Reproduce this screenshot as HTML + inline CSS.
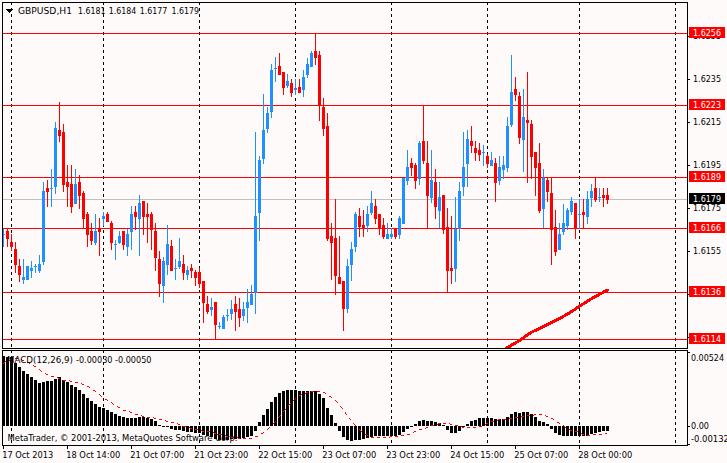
<!DOCTYPE html>
<html><head><meta charset="utf-8"><title>GBPUSD,H1</title>
<style>
html,body{margin:0;padding:0;background:#FFFAFA;width:727px;height:463px;overflow:hidden}
svg{display:block}
text{font-family:"DejaVu Sans","Liberation Sans",sans-serif;font-size:9px}
</style></head><body>
<svg width="727" height="463" viewBox="0 0 727 463" shape-rendering="crispEdges">
<rect x="0" y="0" width="727" height="463" fill="#FFFAFA"/>
<g stroke="#000" stroke-width="1" stroke-dasharray="3 3" fill="none">
<line x1="11.5" y1="2" x2="11.5" y2="348"/>
<line x1="11.5" y1="350" x2="11.5" y2="445"/>
<line x1="103.5" y1="2" x2="103.5" y2="348"/>
<line x1="103.5" y1="350" x2="103.5" y2="445"/>
<line x1="199.5" y1="2" x2="199.5" y2="348"/>
<line x1="199.5" y1="350" x2="199.5" y2="445"/>
<line x1="295.5" y1="2" x2="295.5" y2="348"/>
<line x1="295.5" y1="350" x2="295.5" y2="445"/>
<line x1="391.5" y1="2" x2="391.5" y2="348"/>
<line x1="391.5" y1="350" x2="391.5" y2="445"/>
<line x1="487.5" y1="2" x2="487.5" y2="348"/>
<line x1="487.5" y1="350" x2="487.5" y2="445"/>
<line x1="579.5" y1="2" x2="579.5" y2="348"/>
<line x1="579.5" y1="350" x2="579.5" y2="445"/>
<line x1="675.5" y1="2" x2="675.5" y2="348"/>
<line x1="675.5" y1="350" x2="675.5" y2="445"/>
</g>
<rect x="3" y="199" width="684" height="1" fill="#C0C0C0"/>
<rect x="3" y="33" width="684" height="1" fill="#FF0000"/>
<rect x="3" y="105" width="684" height="1" fill="#FF0000"/>
<rect x="3" y="177" width="684" height="1" fill="#FF0000"/>
<rect x="3" y="228" width="684" height="1" fill="#FF0000"/>
<rect x="3" y="292" width="684" height="1" fill="#FF0000"/>
<rect x="3" y="339" width="684" height="1" fill="#FF0000"/>
<clipPath id="cm"><rect x="3" y="3" width="684" height="345"/></clipPath>
<polyline clip-path="url(#cm)" points="496,354.4 507.5,347.6 521,339.6 530.4,332.8 544.9,325.9 560,318.4 566.5,314.6 573,310.7 581.7,304.8 593.3,297.6 607.5,290.1" fill="none" stroke="#FF0000" stroke-width="3" stroke-linecap="round" stroke-linejoin="round" shape-rendering="crispEdges"/>
<g>
<rect x="3" y="229" width="1" height="18" fill="#1E90FF"/>
<rect x="3" y="234" width="2" height="1" fill="#1E90FF"/>
<rect x="7" y="229" width="1" height="18" fill="#FF0000"/>
<rect x="6" y="231" width="3" height="8" fill="#FF0000"/>
<rect x="11" y="234" width="1" height="17" fill="#FF0000"/>
<rect x="10" y="242" width="3" height="5" fill="#FF0000"/>
<rect x="15" y="242" width="1" height="31" fill="#FF0000"/>
<rect x="14" y="249" width="3" height="16" fill="#FF0000"/>
<rect x="19" y="259" width="1" height="23" fill="#FF0000"/>
<rect x="18" y="266" width="3" height="9" fill="#FF0000"/>
<rect x="23" y="259" width="1" height="25" fill="#1E90FF"/>
<rect x="22" y="277" width="3" height="3" fill="#1E90FF"/>
<rect x="27" y="266" width="1" height="14" fill="#1E90FF"/>
<rect x="26" y="266" width="3" height="14" fill="#1E90FF"/>
<rect x="31" y="261" width="1" height="17" fill="#1E90FF"/>
<rect x="30" y="268" width="3" height="3" fill="#1E90FF"/>
<rect x="35" y="264" width="1" height="9" fill="#1E90FF"/>
<rect x="34" y="266" width="3" height="1" fill="#1E90FF"/>
<rect x="39" y="255" width="1" height="18" fill="#1E90FF"/>
<rect x="38" y="264" width="3" height="7" fill="#1E90FF"/>
<rect x="43" y="182" width="1" height="83" fill="#1E90FF"/>
<rect x="42" y="191" width="3" height="71" fill="#1E90FF"/>
<rect x="47" y="180" width="1" height="27" fill="#FF0000"/>
<rect x="46" y="188" width="3" height="4" fill="#FF0000"/>
<rect x="51" y="169" width="1" height="38" fill="#1E90FF"/>
<rect x="50" y="188" width="3" height="1" fill="#1E90FF"/>
<rect x="55" y="122" width="1" height="72" fill="#1E90FF"/>
<rect x="54" y="128" width="3" height="59" fill="#1E90FF"/>
<rect x="59" y="102" width="1" height="40" fill="#FF0000"/>
<rect x="58" y="130" width="3" height="6" fill="#FF0000"/>
<rect x="63" y="124" width="1" height="68" fill="#FF0000"/>
<rect x="62" y="132" width="3" height="53" fill="#FF0000"/>
<rect x="67" y="165" width="1" height="42" fill="#FF0000"/>
<rect x="66" y="182" width="3" height="5" fill="#FF0000"/>
<rect x="71" y="165" width="1" height="48" fill="#FF0000"/>
<rect x="70" y="184" width="3" height="23" fill="#FF0000"/>
<rect x="75" y="169" width="1" height="35" fill="#1E90FF"/>
<rect x="74" y="184" width="3" height="20" fill="#1E90FF"/>
<rect x="79" y="175" width="1" height="34" fill="#FF0000"/>
<rect x="78" y="182" width="3" height="14" fill="#FF0000"/>
<rect x="83" y="191" width="1" height="38" fill="#FF0000"/>
<rect x="82" y="193" width="3" height="26" fill="#FF0000"/>
<rect x="87" y="212" width="1" height="35" fill="#FF0000"/>
<rect x="86" y="214" width="3" height="21" fill="#FF0000"/>
<rect x="91" y="223" width="1" height="22" fill="#FF0000"/>
<rect x="90" y="231" width="3" height="10" fill="#FF0000"/>
<rect x="95" y="214" width="1" height="31" fill="#1E90FF"/>
<rect x="94" y="231" width="3" height="12" fill="#1E90FF"/>
<rect x="99" y="218" width="1" height="38" fill="#FF0000"/>
<rect x="98" y="228" width="3" height="4" fill="#FF0000"/>
<rect x="103" y="212" width="1" height="14" fill="#1E90FF"/>
<rect x="102" y="216" width="3" height="3" fill="#1E90FF"/>
<rect x="107" y="212" width="1" height="10" fill="#FF0000"/>
<rect x="106" y="214" width="3" height="8" fill="#FF0000"/>
<rect x="111" y="221" width="1" height="29" fill="#FF0000"/>
<rect x="110" y="223" width="3" height="20" fill="#FF0000"/>
<rect x="115" y="240" width="1" height="20" fill="#1E90FF"/>
<rect x="114" y="244" width="3" height="1" fill="#1E90FF"/>
<rect x="119" y="231" width="1" height="13" fill="#1E90FF"/>
<rect x="118" y="236" width="3" height="7" fill="#1E90FF"/>
<rect x="123" y="231" width="1" height="19" fill="#FF0000"/>
<rect x="122" y="231" width="3" height="14" fill="#FF0000"/>
<rect x="127" y="229" width="1" height="27" fill="#1E90FF"/>
<rect x="126" y="234" width="3" height="13" fill="#1E90FF"/>
<rect x="131" y="206" width="1" height="44" fill="#1E90FF"/>
<rect x="130" y="214" width="3" height="18" fill="#1E90FF"/>
<rect x="135" y="206" width="1" height="24" fill="#FF0000"/>
<rect x="134" y="212" width="3" height="5" fill="#FF0000"/>
<rect x="139" y="195" width="1" height="61" fill="#1E90FF"/>
<rect x="138" y="203" width="3" height="16" fill="#1E90FF"/>
<rect x="143" y="201" width="1" height="34" fill="#FF0000"/>
<rect x="142" y="201" width="3" height="16" fill="#FF0000"/>
<rect x="147" y="203" width="1" height="40" fill="#FF0000"/>
<rect x="146" y="214" width="3" height="3" fill="#FF0000"/>
<rect x="151" y="212" width="1" height="38" fill="#FF0000"/>
<rect x="150" y="214" width="3" height="16" fill="#FF0000"/>
<rect x="155" y="223" width="1" height="48" fill="#FF0000"/>
<rect x="154" y="231" width="3" height="27" fill="#FF0000"/>
<rect x="159" y="251" width="1" height="46" fill="#FF0000"/>
<rect x="158" y="259" width="3" height="25" fill="#FF0000"/>
<rect x="163" y="257" width="1" height="46" fill="#1E90FF"/>
<rect x="162" y="261" width="3" height="25" fill="#1E90FF"/>
<rect x="167" y="225" width="1" height="50" fill="#1E90FF"/>
<rect x="166" y="244" width="3" height="21" fill="#1E90FF"/>
<rect x="171" y="240" width="1" height="31" fill="#FF0000"/>
<rect x="170" y="246" width="3" height="25" fill="#FF0000"/>
<rect x="175" y="259" width="1" height="21" fill="#1E90FF"/>
<rect x="174" y="268" width="3" height="1" fill="#1E90FF"/>
<rect x="179" y="238" width="1" height="31" fill="#1E90FF"/>
<rect x="178" y="261" width="3" height="6" fill="#1E90FF"/>
<rect x="183" y="255" width="1" height="25" fill="#FF0000"/>
<rect x="182" y="264" width="3" height="9" fill="#FF0000"/>
<rect x="187" y="266" width="1" height="14" fill="#1E90FF"/>
<rect x="186" y="270" width="3" height="5" fill="#1E90FF"/>
<rect x="191" y="264" width="1" height="14" fill="#FF0000"/>
<rect x="190" y="268" width="3" height="3" fill="#FF0000"/>
<rect x="195" y="270" width="1" height="16" fill="#FF0000"/>
<rect x="194" y="272" width="3" height="6" fill="#FF0000"/>
<rect x="199" y="268" width="1" height="20" fill="#FF0000"/>
<rect x="198" y="272" width="3" height="12" fill="#FF0000"/>
<rect x="203" y="281" width="1" height="42" fill="#FF0000"/>
<rect x="202" y="281" width="3" height="22" fill="#FF0000"/>
<rect x="207" y="296" width="1" height="18" fill="#FF0000"/>
<rect x="206" y="304" width="3" height="8" fill="#FF0000"/>
<rect x="211" y="298" width="1" height="18" fill="#1E90FF"/>
<rect x="210" y="307" width="3" height="3" fill="#1E90FF"/>
<rect x="215" y="302" width="1" height="38" fill="#FF0000"/>
<rect x="214" y="302" width="3" height="23" fill="#FF0000"/>
<rect x="219" y="322" width="1" height="7" fill="#1E90FF"/>
<rect x="218" y="326" width="3" height="1" fill="#1E90FF"/>
<rect x="223" y="315" width="1" height="14" fill="#1E90FF"/>
<rect x="222" y="317" width="3" height="12" fill="#1E90FF"/>
<rect x="227" y="309" width="1" height="12" fill="#1E90FF"/>
<rect x="226" y="315" width="3" height="1" fill="#1E90FF"/>
<rect x="231" y="300" width="1" height="20" fill="#1E90FF"/>
<rect x="230" y="309" width="3" height="5" fill="#1E90FF"/>
<rect x="235" y="296" width="1" height="35" fill="#FF0000"/>
<rect x="234" y="304" width="3" height="8" fill="#FF0000"/>
<rect x="239" y="298" width="1" height="29" fill="#FF0000"/>
<rect x="238" y="309" width="3" height="9" fill="#FF0000"/>
<rect x="243" y="302" width="1" height="19" fill="#1E90FF"/>
<rect x="242" y="309" width="3" height="7" fill="#1E90FF"/>
<rect x="247" y="289" width="1" height="34" fill="#1E90FF"/>
<rect x="246" y="302" width="3" height="6" fill="#1E90FF"/>
<rect x="251" y="285" width="1" height="20" fill="#1E90FF"/>
<rect x="250" y="294" width="3" height="11" fill="#1E90FF"/>
<rect x="255" y="132" width="1" height="182" fill="#1E90FF"/>
<rect x="254" y="216" width="3" height="77" fill="#1E90FF"/>
<rect x="259" y="156" width="1" height="85" fill="#1E90FF"/>
<rect x="258" y="160" width="3" height="53" fill="#1E90FF"/>
<rect x="263" y="94" width="1" height="70" fill="#1E90FF"/>
<rect x="262" y="130" width="3" height="29" fill="#1E90FF"/>
<rect x="267" y="107" width="1" height="26" fill="#1E90FF"/>
<rect x="266" y="113" width="3" height="16" fill="#1E90FF"/>
<rect x="271" y="64" width="1" height="54" fill="#1E90FF"/>
<rect x="270" y="70" width="3" height="42" fill="#1E90FF"/>
<rect x="275" y="57" width="1" height="25" fill="#1E90FF"/>
<rect x="274" y="68" width="3" height="1" fill="#1E90FF"/>
<rect x="279" y="53" width="1" height="22" fill="#FF0000"/>
<rect x="278" y="66" width="3" height="9" fill="#FF0000"/>
<rect x="283" y="72" width="1" height="23" fill="#FF0000"/>
<rect x="282" y="72" width="3" height="16" fill="#FF0000"/>
<rect x="287" y="74" width="1" height="14" fill="#1E90FF"/>
<rect x="286" y="81" width="3" height="5" fill="#1E90FF"/>
<rect x="291" y="79" width="1" height="18" fill="#FF0000"/>
<rect x="290" y="83" width="3" height="10" fill="#FF0000"/>
<rect x="295" y="79" width="1" height="16" fill="#1E90FF"/>
<rect x="294" y="88" width="3" height="2" fill="#1E90FF"/>
<rect x="299" y="79" width="1" height="14" fill="#FF0000"/>
<rect x="298" y="87" width="3" height="6" fill="#FF0000"/>
<rect x="303" y="70" width="1" height="27" fill="#1E90FF"/>
<rect x="302" y="77" width="3" height="13" fill="#1E90FF"/>
<rect x="307" y="58" width="1" height="20" fill="#1E90FF"/>
<rect x="306" y="64" width="3" height="11" fill="#1E90FF"/>
<rect x="311" y="51" width="1" height="16" fill="#1E90FF"/>
<rect x="310" y="53" width="3" height="14" fill="#1E90FF"/>
<rect x="315" y="33" width="1" height="32" fill="#FF0000"/>
<rect x="314" y="51" width="3" height="7" fill="#FF0000"/>
<rect x="319" y="51" width="1" height="70" fill="#FF0000"/>
<rect x="318" y="55" width="3" height="51" fill="#FF0000"/>
<rect x="323" y="98" width="1" height="38" fill="#FF0000"/>
<rect x="322" y="107" width="3" height="22" fill="#FF0000"/>
<rect x="327" y="113" width="1" height="128" fill="#FF0000"/>
<rect x="326" y="126" width="3" height="113" fill="#FF0000"/>
<rect x="331" y="223" width="1" height="57" fill="#FF0000"/>
<rect x="330" y="236" width="3" height="7" fill="#FF0000"/>
<rect x="335" y="199" width="1" height="96" fill="#FF0000"/>
<rect x="334" y="238" width="3" height="38" fill="#FF0000"/>
<rect x="339" y="236" width="1" height="48" fill="#FF0000"/>
<rect x="338" y="277" width="3" height="7" fill="#FF0000"/>
<rect x="343" y="281" width="1" height="50" fill="#FF0000"/>
<rect x="342" y="281" width="3" height="28" fill="#FF0000"/>
<rect x="347" y="259" width="1" height="54" fill="#1E90FF"/>
<rect x="346" y="266" width="3" height="43" fill="#1E90FF"/>
<rect x="351" y="242" width="1" height="39" fill="#1E90FF"/>
<rect x="350" y="249" width="3" height="16" fill="#1E90FF"/>
<rect x="355" y="212" width="1" height="40" fill="#1E90FF"/>
<rect x="354" y="214" width="3" height="33" fill="#1E90FF"/>
<rect x="359" y="208" width="1" height="29" fill="#FF0000"/>
<rect x="358" y="216" width="3" height="11" fill="#FF0000"/>
<rect x="363" y="210" width="1" height="27" fill="#FF0000"/>
<rect x="362" y="225" width="3" height="3" fill="#FF0000"/>
<rect x="367" y="206" width="1" height="26" fill="#1E90FF"/>
<rect x="366" y="214" width="3" height="12" fill="#1E90FF"/>
<rect x="371" y="191" width="1" height="24" fill="#1E90FF"/>
<rect x="370" y="203" width="3" height="10" fill="#1E90FF"/>
<rect x="375" y="199" width="1" height="25" fill="#FF0000"/>
<rect x="374" y="206" width="3" height="13" fill="#FF0000"/>
<rect x="379" y="214" width="1" height="21" fill="#FF0000"/>
<rect x="378" y="214" width="3" height="15" fill="#FF0000"/>
<rect x="383" y="218" width="1" height="21" fill="#FF0000"/>
<rect x="382" y="225" width="3" height="12" fill="#FF0000"/>
<rect x="387" y="223" width="1" height="16" fill="#1E90FF"/>
<rect x="386" y="234" width="3" height="5" fill="#1E90FF"/>
<rect x="391" y="228" width="1" height="11" fill="#1E90FF"/>
<rect x="390" y="234" width="3" height="3" fill="#1E90FF"/>
<rect x="395" y="228" width="1" height="11" fill="#FF0000"/>
<rect x="394" y="228" width="3" height="9" fill="#FF0000"/>
<rect x="399" y="216" width="1" height="23" fill="#1E90FF"/>
<rect x="398" y="218" width="3" height="17" fill="#1E90FF"/>
<rect x="403" y="178" width="1" height="46" fill="#1E90FF"/>
<rect x="402" y="178" width="3" height="46" fill="#1E90FF"/>
<rect x="407" y="150" width="1" height="35" fill="#1E90FF"/>
<rect x="406" y="167" width="3" height="14" fill="#1E90FF"/>
<rect x="411" y="158" width="1" height="18" fill="#FF0000"/>
<rect x="410" y="163" width="3" height="5" fill="#FF0000"/>
<rect x="415" y="163" width="1" height="26" fill="#FF0000"/>
<rect x="414" y="165" width="3" height="16" fill="#FF0000"/>
<rect x="419" y="141" width="1" height="44" fill="#1E90FF"/>
<rect x="418" y="143" width="3" height="36" fill="#1E90FF"/>
<rect x="423" y="105" width="1" height="59" fill="#FF0000"/>
<rect x="422" y="141" width="3" height="20" fill="#FF0000"/>
<rect x="427" y="141" width="1" height="87" fill="#FF0000"/>
<rect x="426" y="163" width="3" height="33" fill="#FF0000"/>
<rect x="431" y="150" width="1" height="53" fill="#1E90FF"/>
<rect x="430" y="180" width="3" height="18" fill="#1E90FF"/>
<rect x="435" y="169" width="1" height="50" fill="#FF0000"/>
<rect x="434" y="182" width="3" height="25" fill="#FF0000"/>
<rect x="439" y="182" width="1" height="46" fill="#1E90FF"/>
<rect x="438" y="197" width="3" height="14" fill="#1E90FF"/>
<rect x="443" y="195" width="1" height="39" fill="#FF0000"/>
<rect x="442" y="195" width="3" height="35" fill="#FF0000"/>
<rect x="447" y="208" width="1" height="84" fill="#FF0000"/>
<rect x="446" y="227" width="3" height="44" fill="#FF0000"/>
<rect x="451" y="216" width="1" height="68" fill="#FF0000"/>
<rect x="450" y="268" width="3" height="3" fill="#FF0000"/>
<rect x="455" y="197" width="1" height="85" fill="#1E90FF"/>
<rect x="454" y="229" width="3" height="40" fill="#1E90FF"/>
<rect x="459" y="182" width="1" height="59" fill="#1E90FF"/>
<rect x="458" y="191" width="3" height="38" fill="#1E90FF"/>
<rect x="463" y="132" width="1" height="64" fill="#1E90FF"/>
<rect x="462" y="167" width="3" height="20" fill="#1E90FF"/>
<rect x="467" y="130" width="1" height="57" fill="#1E90FF"/>
<rect x="466" y="139" width="3" height="25" fill="#1E90FF"/>
<rect x="471" y="126" width="1" height="27" fill="#FF0000"/>
<rect x="470" y="141" width="3" height="5" fill="#FF0000"/>
<rect x="475" y="141" width="1" height="20" fill="#FF0000"/>
<rect x="474" y="148" width="3" height="5" fill="#FF0000"/>
<rect x="479" y="143" width="1" height="18" fill="#FF0000"/>
<rect x="478" y="150" width="3" height="5" fill="#FF0000"/>
<rect x="483" y="145" width="1" height="21" fill="#1E90FF"/>
<rect x="482" y="152" width="3" height="1" fill="#1E90FF"/>
<rect x="487" y="154" width="1" height="14" fill="#FF0000"/>
<rect x="486" y="156" width="3" height="8" fill="#FF0000"/>
<rect x="491" y="152" width="1" height="14" fill="#1E90FF"/>
<rect x="490" y="160" width="3" height="6" fill="#1E90FF"/>
<rect x="495" y="158" width="1" height="44" fill="#FF0000"/>
<rect x="494" y="163" width="3" height="20" fill="#FF0000"/>
<rect x="499" y="156" width="1" height="29" fill="#1E90FF"/>
<rect x="498" y="167" width="3" height="14" fill="#1E90FF"/>
<rect x="503" y="156" width="1" height="23" fill="#1E90FF"/>
<rect x="502" y="165" width="3" height="5" fill="#1E90FF"/>
<rect x="507" y="117" width="1" height="55" fill="#1E90FF"/>
<rect x="506" y="126" width="3" height="42" fill="#1E90FF"/>
<rect x="511" y="55" width="1" height="72" fill="#1E90FF"/>
<rect x="510" y="92" width="3" height="33" fill="#1E90FF"/>
<rect x="515" y="77" width="1" height="24" fill="#FF0000"/>
<rect x="514" y="89" width="3" height="6" fill="#FF0000"/>
<rect x="519" y="92" width="1" height="52" fill="#FF0000"/>
<rect x="518" y="96" width="3" height="42" fill="#FF0000"/>
<rect x="523" y="89" width="1" height="83" fill="#1E90FF"/>
<rect x="522" y="117" width="3" height="23" fill="#1E90FF"/>
<rect x="527" y="72" width="1" height="111" fill="#FF0000"/>
<rect x="526" y="120" width="3" height="3" fill="#FF0000"/>
<rect x="531" y="120" width="1" height="59" fill="#FF0000"/>
<rect x="530" y="124" width="3" height="33" fill="#FF0000"/>
<rect x="535" y="152" width="1" height="44" fill="#FF0000"/>
<rect x="534" y="152" width="3" height="16" fill="#FF0000"/>
<rect x="539" y="143" width="1" height="70" fill="#FF0000"/>
<rect x="538" y="163" width="3" height="48" fill="#FF0000"/>
<rect x="543" y="169" width="1" height="59" fill="#1E90FF"/>
<rect x="542" y="178" width="3" height="31" fill="#1E90FF"/>
<rect x="547" y="178" width="1" height="24" fill="#FF0000"/>
<rect x="546" y="180" width="3" height="12" fill="#FF0000"/>
<rect x="551" y="178" width="1" height="87" fill="#FF0000"/>
<rect x="550" y="193" width="3" height="37" fill="#FF0000"/>
<rect x="555" y="210" width="1" height="46" fill="#FF0000"/>
<rect x="554" y="227" width="3" height="25" fill="#FF0000"/>
<rect x="559" y="223" width="1" height="27" fill="#1E90FF"/>
<rect x="558" y="234" width="3" height="16" fill="#1E90FF"/>
<rect x="563" y="204" width="1" height="31" fill="#1E90FF"/>
<rect x="562" y="223" width="3" height="9" fill="#1E90FF"/>
<rect x="567" y="208" width="1" height="22" fill="#1E90FF"/>
<rect x="566" y="210" width="3" height="16" fill="#1E90FF"/>
<rect x="571" y="197" width="1" height="18" fill="#1E90FF"/>
<rect x="570" y="201" width="3" height="11" fill="#1E90FF"/>
<rect x="575" y="203" width="1" height="36" fill="#FF0000"/>
<rect x="574" y="203" width="3" height="26" fill="#FF0000"/>
<rect x="579" y="199" width="1" height="30" fill="#1E90FF"/>
<rect x="578" y="214" width="3" height="1" fill="#1E90FF"/>
<rect x="583" y="199" width="1" height="29" fill="#FF0000"/>
<rect x="582" y="212" width="3" height="3" fill="#FF0000"/>
<rect x="587" y="191" width="1" height="33" fill="#1E90FF"/>
<rect x="586" y="199" width="3" height="18" fill="#1E90FF"/>
<rect x="591" y="184" width="1" height="23" fill="#1E90FF"/>
<rect x="590" y="191" width="3" height="7" fill="#1E90FF"/>
<rect x="595" y="178" width="1" height="24" fill="#FF0000"/>
<rect x="594" y="188" width="3" height="12" fill="#FF0000"/>
<rect x="599" y="188" width="1" height="14" fill="#1E90FF"/>
<rect x="598" y="197" width="3" height="1" fill="#1E90FF"/>
<rect x="603" y="188" width="1" height="19" fill="#FF0000"/>
<rect x="602" y="195" width="3" height="3" fill="#FF0000"/>
<rect x="607" y="188" width="1" height="16" fill="#FF0000"/>
<rect x="606" y="195" width="3" height="5" fill="#FF0000"/>
</g>
<g shape-rendering="auto">
<text x="7.5" y="441" textLength="230" lengthAdjust="spacingAndGlyphs" fill="#000">MetaTrader, © 2001-2013, MetaQuotes Software Corp.</text>
</g>
<g fill="#000">
<rect x="3" y="356" width="2" height="70" fill="#000"/>
<rect x="6" y="357" width="3" height="69" fill="#000"/>
<rect x="10" y="357" width="3" height="69" fill="#000"/>
<rect x="14" y="363" width="3" height="63" fill="#000"/>
<rect x="18" y="367" width="3" height="59" fill="#000"/>
<rect x="22" y="371" width="3" height="55" fill="#000"/>
<rect x="26" y="374" width="3" height="52" fill="#000"/>
<rect x="30" y="377" width="3" height="49" fill="#000"/>
<rect x="34" y="380" width="3" height="46" fill="#000"/>
<rect x="38" y="383" width="3" height="43" fill="#000"/>
<rect x="42" y="382" width="3" height="44" fill="#000"/>
<rect x="46" y="381" width="3" height="45" fill="#000"/>
<rect x="50" y="381" width="3" height="45" fill="#000"/>
<rect x="54" y="379" width="3" height="47" fill="#000"/>
<rect x="58" y="377" width="3" height="49" fill="#000"/>
<rect x="62" y="380" width="3" height="46" fill="#000"/>
<rect x="66" y="382" width="3" height="44" fill="#000"/>
<rect x="70" y="385" width="3" height="41" fill="#000"/>
<rect x="74" y="387" width="3" height="39" fill="#000"/>
<rect x="78" y="390" width="3" height="36" fill="#000"/>
<rect x="82" y="394" width="3" height="32" fill="#000"/>
<rect x="86" y="398" width="3" height="28" fill="#000"/>
<rect x="90" y="401" width="3" height="25" fill="#000"/>
<rect x="94" y="404" width="3" height="22" fill="#000"/>
<rect x="98" y="407" width="3" height="19" fill="#000"/>
<rect x="102" y="408" width="3" height="18" fill="#000"/>
<rect x="106" y="410" width="3" height="16" fill="#000"/>
<rect x="110" y="412" width="3" height="14" fill="#000"/>
<rect x="114" y="414" width="3" height="12" fill="#000"/>
<rect x="118" y="416" width="3" height="10" fill="#000"/>
<rect x="122" y="417" width="3" height="9" fill="#000"/>
<rect x="126" y="418" width="3" height="8" fill="#000"/>
<rect x="130" y="418" width="3" height="8" fill="#000"/>
<rect x="134" y="418" width="3" height="8" fill="#000"/>
<rect x="138" y="417" width="3" height="9" fill="#000"/>
<rect x="142" y="417" width="3" height="9" fill="#000"/>
<rect x="146" y="418" width="3" height="8" fill="#000"/>
<rect x="150" y="419" width="3" height="7" fill="#000"/>
<rect x="154" y="421" width="3" height="5" fill="#000"/>
<rect x="158" y="425" width="3" height="1" fill="#000"/>
<rect x="162" y="426" width="3" height="1" fill="#000"/>
<rect x="166" y="426" width="3" height="1" fill="#000"/>
<rect x="170" y="426" width="3" height="3" fill="#000"/>
<rect x="174" y="426" width="3" height="4" fill="#000"/>
<rect x="178" y="426" width="3" height="4" fill="#000"/>
<rect x="182" y="426" width="3" height="5" fill="#000"/>
<rect x="186" y="426" width="3" height="6" fill="#000"/>
<rect x="190" y="426" width="3" height="6" fill="#000"/>
<rect x="194" y="426" width="3" height="7" fill="#000"/>
<rect x="198" y="426" width="3" height="7" fill="#000"/>
<rect x="202" y="426" width="3" height="9" fill="#000"/>
<rect x="206" y="426" width="3" height="10" fill="#000"/>
<rect x="210" y="426" width="3" height="11" fill="#000"/>
<rect x="214" y="426" width="3" height="13" fill="#000"/>
<rect x="218" y="426" width="3" height="14" fill="#000"/>
<rect x="222" y="426" width="3" height="14" fill="#000"/>
<rect x="226" y="426" width="3" height="14" fill="#000"/>
<rect x="230" y="426" width="3" height="13" fill="#000"/>
<rect x="234" y="426" width="3" height="13" fill="#000"/>
<rect x="238" y="426" width="3" height="13" fill="#000"/>
<rect x="242" y="426" width="3" height="12" fill="#000"/>
<rect x="246" y="426" width="3" height="11" fill="#000"/>
<rect x="250" y="426" width="3" height="10" fill="#000"/>
<rect x="254" y="426" width="3" height="5" fill="#000"/>
<rect x="258" y="422" width="3" height="4" fill="#000"/>
<rect x="262" y="415" width="3" height="11" fill="#000"/>
<rect x="266" y="409" width="3" height="17" fill="#000"/>
<rect x="270" y="402" width="3" height="24" fill="#000"/>
<rect x="274" y="397" width="3" height="29" fill="#000"/>
<rect x="278" y="393" width="3" height="33" fill="#000"/>
<rect x="282" y="391" width="3" height="35" fill="#000"/>
<rect x="286" y="390" width="3" height="36" fill="#000"/>
<rect x="290" y="390" width="3" height="36" fill="#000"/>
<rect x="294" y="390" width="3" height="36" fill="#000"/>
<rect x="298" y="391" width="3" height="35" fill="#000"/>
<rect x="302" y="391" width="3" height="35" fill="#000"/>
<rect x="306" y="391" width="3" height="35" fill="#000"/>
<rect x="310" y="391" width="3" height="35" fill="#000"/>
<rect x="314" y="391" width="3" height="35" fill="#000"/>
<rect x="318" y="394" width="3" height="32" fill="#000"/>
<rect x="322" y="398" width="3" height="28" fill="#000"/>
<rect x="326" y="408" width="3" height="18" fill="#000"/>
<rect x="330" y="415" width="3" height="11" fill="#000"/>
<rect x="334" y="423" width="3" height="3" fill="#000"/>
<rect x="338" y="426" width="3" height="5" fill="#000"/>
<rect x="342" y="426" width="3" height="11" fill="#000"/>
<rect x="346" y="426" width="3" height="14" fill="#000"/>
<rect x="350" y="426" width="3" height="15" fill="#000"/>
<rect x="354" y="426" width="3" height="14" fill="#000"/>
<rect x="358" y="426" width="3" height="14" fill="#000"/>
<rect x="362" y="426" width="3" height="13" fill="#000"/>
<rect x="366" y="426" width="3" height="12" fill="#000"/>
<rect x="370" y="426" width="3" height="11" fill="#000"/>
<rect x="374" y="426" width="3" height="10" fill="#000"/>
<rect x="378" y="426" width="3" height="10" fill="#000"/>
<rect x="382" y="426" width="3" height="10" fill="#000"/>
<rect x="386" y="426" width="3" height="10" fill="#000"/>
<rect x="390" y="426" width="3" height="10" fill="#000"/>
<rect x="394" y="426" width="3" height="10" fill="#000"/>
<rect x="398" y="426" width="3" height="9" fill="#000"/>
<rect x="402" y="426" width="3" height="6" fill="#000"/>
<rect x="406" y="426" width="3" height="3" fill="#000"/>
<rect x="410" y="426" width="3" height="1" fill="#000"/>
<rect x="414" y="424" width="3" height="2" fill="#000"/>
<rect x="418" y="421" width="3" height="5" fill="#000"/>
<rect x="422" y="420" width="3" height="6" fill="#000"/>
<rect x="426" y="421" width="3" height="5" fill="#000"/>
<rect x="430" y="421" width="3" height="5" fill="#000"/>
<rect x="434" y="422" width="3" height="4" fill="#000"/>
<rect x="438" y="423" width="3" height="3" fill="#000"/>
<rect x="442" y="425" width="3" height="1" fill="#000"/>
<rect x="446" y="426" width="3" height="4" fill="#000"/>
<rect x="450" y="426" width="3" height="7" fill="#000"/>
<rect x="454" y="426" width="3" height="7" fill="#000"/>
<rect x="458" y="426" width="3" height="5" fill="#000"/>
<rect x="462" y="426" width="3" height="1" fill="#000"/>
<rect x="466" y="424" width="3" height="2" fill="#000"/>
<rect x="470" y="421" width="3" height="5" fill="#000"/>
<rect x="474" y="420" width="3" height="6" fill="#000"/>
<rect x="478" y="418" width="3" height="8" fill="#000"/>
<rect x="482" y="418" width="3" height="8" fill="#000"/>
<rect x="486" y="418" width="3" height="8" fill="#000"/>
<rect x="490" y="418" width="3" height="8" fill="#000"/>
<rect x="494" y="419" width="3" height="7" fill="#000"/>
<rect x="498" y="419" width="3" height="7" fill="#000"/>
<rect x="502" y="419" width="3" height="7" fill="#000"/>
<rect x="506" y="417" width="3" height="9" fill="#000"/>
<rect x="510" y="414" width="3" height="12" fill="#000"/>
<rect x="514" y="412" width="3" height="14" fill="#000"/>
<rect x="518" y="413" width="3" height="13" fill="#000"/>
<rect x="522" y="412" width="3" height="14" fill="#000"/>
<rect x="526" y="412" width="3" height="14" fill="#000"/>
<rect x="530" y="414" width="3" height="12" fill="#000"/>
<rect x="534" y="417" width="3" height="9" fill="#000"/>
<rect x="538" y="421" width="3" height="5" fill="#000"/>
<rect x="542" y="422" width="3" height="4" fill="#000"/>
<rect x="546" y="424" width="3" height="2" fill="#000"/>
<rect x="550" y="426" width="3" height="3" fill="#000"/>
<rect x="554" y="426" width="3" height="7" fill="#000"/>
<rect x="558" y="426" width="3" height="9" fill="#000"/>
<rect x="562" y="426" width="3" height="10" fill="#000"/>
<rect x="566" y="426" width="3" height="10" fill="#000"/>
<rect x="570" y="426" width="3" height="10" fill="#000"/>
<rect x="574" y="426" width="3" height="10" fill="#000"/>
<rect x="578" y="426" width="3" height="10" fill="#000"/>
<rect x="582" y="426" width="3" height="10" fill="#000"/>
<rect x="586" y="426" width="3" height="10" fill="#000"/>
<rect x="590" y="426" width="3" height="8" fill="#000"/>
<rect x="594" y="426" width="3" height="7" fill="#000"/>
<rect x="598" y="426" width="3" height="6" fill="#000"/>
<rect x="602" y="426" width="3" height="5" fill="#000"/>
<rect x="606" y="426" width="3" height="5" fill="#000"/>
</g>
<g fill="#FF0000">
<rect x="15" y="358" width="3" height="1"/>
<rect x="10" y="359" width="2" height="1"/>
<rect x="21" y="359" width="1" height="1"/>
<rect x="9" y="360" width="1" height="1"/>
<rect x="22" y="360" width="2" height="1"/>
<rect x="5" y="361" width="1" height="1"/>
<rect x="4" y="362" width="1" height="1"/>
<rect x="27" y="362" width="2" height="1"/>
<rect x="3" y="363" width="1" height="1"/>
<rect x="29" y="363" width="1" height="1"/>
<rect x="33" y="365" width="1" height="1"/>
<rect x="34" y="366" width="2" height="1"/>
<rect x="39" y="369" width="1" height="1"/>
<rect x="40" y="370" width="1" height="1"/>
<rect x="41" y="371" width="1" height="1"/>
<rect x="45" y="373" width="1" height="1"/>
<rect x="46" y="374" width="2" height="1"/>
<rect x="51" y="376" width="3" height="1"/>
<rect x="57" y="377" width="1" height="1"/>
<rect x="58" y="378" width="2" height="1"/>
<rect x="63" y="380" width="3" height="1"/>
<rect x="69" y="380" width="1" height="1"/>
<rect x="70" y="381" width="2" height="1"/>
<rect x="75" y="382" width="3" height="1"/>
<rect x="81" y="383" width="1" height="1"/>
<rect x="82" y="384" width="2" height="1"/>
<rect x="87" y="386" width="2" height="1"/>
<rect x="89" y="387" width="1" height="1"/>
<rect x="93" y="390" width="2" height="1"/>
<rect x="95" y="391" width="1" height="1"/>
<rect x="311" y="391" width="3" height="1"/>
<rect x="317" y="391" width="3" height="1"/>
<rect x="306" y="392" width="2" height="1"/>
<rect x="323" y="392" width="2" height="1"/>
<rect x="305" y="393" width="1" height="1"/>
<rect x="325" y="393" width="1" height="1"/>
<rect x="99" y="394" width="1" height="1"/>
<rect x="301" y="394" width="1" height="1"/>
<rect x="100" y="395" width="1" height="1"/>
<rect x="299" y="395" width="2" height="1"/>
<rect x="101" y="396" width="1" height="1"/>
<rect x="329" y="396" width="2" height="1"/>
<rect x="331" y="397" width="1" height="1"/>
<rect x="295" y="398" width="1" height="1"/>
<rect x="105" y="399" width="2" height="1"/>
<rect x="294" y="399" width="1" height="1"/>
<rect x="107" y="400" width="1" height="1"/>
<rect x="293" y="400" width="1" height="1"/>
<rect x="335" y="400" width="1" height="1"/>
<rect x="336" y="401" width="1" height="1"/>
<rect x="111" y="402" width="1" height="1"/>
<rect x="337" y="402" width="1" height="1"/>
<rect x="112" y="403" width="1" height="1"/>
<rect x="290" y="403" width="1" height="1"/>
<rect x="113" y="404" width="1" height="1"/>
<rect x="289" y="404" width="1" height="1"/>
<rect x="288" y="405" width="1" height="1"/>
<rect x="117" y="406" width="1" height="1"/>
<rect x="340" y="406" width="1" height="1"/>
<rect x="118" y="407" width="2" height="1"/>
<rect x="341" y="407" width="1" height="1"/>
<rect x="342" y="408" width="1" height="1"/>
<rect x="285" y="409" width="1" height="1"/>
<rect x="123" y="410" width="3" height="1"/>
<rect x="284" y="410" width="1" height="1"/>
<rect x="129" y="411" width="1" height="1"/>
<rect x="283" y="411" width="1" height="1"/>
<rect x="130" y="412" width="2" height="1"/>
<rect x="345" y="412" width="1" height="1"/>
<rect x="345" y="413" width="1" height="1"/>
<rect x="135" y="414" width="3" height="1"/>
<rect x="346" y="414" width="1" height="1"/>
<rect x="534" y="414" width="2" height="1"/>
<rect x="539" y="414" width="3" height="1"/>
<rect x="141" y="415" width="1" height="1"/>
<rect x="280" y="415" width="1" height="1"/>
<rect x="527" y="415" width="3" height="1"/>
<rect x="533" y="415" width="1" height="1"/>
<rect x="545" y="415" width="1" height="1"/>
<rect x="142" y="416" width="2" height="1"/>
<rect x="279" y="416" width="1" height="1"/>
<rect x="521" y="416" width="3" height="1"/>
<rect x="546" y="416" width="2" height="1"/>
<rect x="147" y="417" width="3" height="1"/>
<rect x="153" y="417" width="1" height="1"/>
<rect x="278" y="417" width="1" height="1"/>
<rect x="515" y="417" width="3" height="1"/>
<rect x="154" y="418" width="2" height="1"/>
<rect x="349" y="418" width="1" height="1"/>
<rect x="509" y="418" width="3" height="1"/>
<rect x="551" y="418" width="2" height="1"/>
<rect x="159" y="419" width="3" height="1"/>
<rect x="350" y="419" width="1" height="1"/>
<rect x="498" y="419" width="2" height="1"/>
<rect x="503" y="419" width="3" height="1"/>
<rect x="553" y="419" width="1" height="1"/>
<rect x="165" y="420" width="1" height="1"/>
<rect x="497" y="420" width="1" height="1"/>
<rect x="166" y="421" width="2" height="1"/>
<rect x="275" y="421" width="1" height="1"/>
<rect x="491" y="421" width="3" height="1"/>
<rect x="171" y="422" width="3" height="1"/>
<rect x="274" y="422" width="1" height="1"/>
<rect x="557" y="422" width="2" height="1"/>
<rect x="177" y="423" width="1" height="1"/>
<rect x="273" y="423" width="1" height="1"/>
<rect x="353" y="423" width="1" height="1"/>
<rect x="438" y="423" width="2" height="1"/>
<rect x="443" y="423" width="3" height="1"/>
<rect x="449" y="423" width="1" height="1"/>
<rect x="486" y="423" width="2" height="1"/>
<rect x="559" y="423" width="1" height="1"/>
<rect x="178" y="424" width="2" height="1"/>
<rect x="354" y="424" width="1" height="1"/>
<rect x="437" y="424" width="1" height="1"/>
<rect x="450" y="424" width="2" height="1"/>
<rect x="485" y="424" width="1" height="1"/>
<rect x="355" y="425" width="1" height="1"/>
<rect x="431" y="425" width="3" height="1"/>
<rect x="455" y="425" width="3" height="1"/>
<rect x="563" y="425" width="1" height="1"/>
<rect x="183" y="426" width="3" height="1"/>
<rect x="461" y="426" width="1" height="1"/>
<rect x="479" y="426" width="3" height="1"/>
<rect x="564" y="426" width="1" height="1"/>
<rect x="189" y="427" width="1" height="1"/>
<rect x="269" y="427" width="1" height="1"/>
<rect x="426" y="427" width="2" height="1"/>
<rect x="462" y="427" width="2" height="1"/>
<rect x="467" y="427" width="3" height="1"/>
<rect x="473" y="427" width="3" height="1"/>
<rect x="565" y="427" width="1" height="1"/>
<rect x="190" y="428" width="2" height="1"/>
<rect x="268" y="428" width="1" height="1"/>
<rect x="425" y="428" width="1" height="1"/>
<rect x="195" y="429" width="3" height="1"/>
<rect x="267" y="429" width="1" height="1"/>
<rect x="359" y="429" width="1" height="1"/>
<rect x="419" y="429" width="3" height="1"/>
<rect x="569" y="429" width="1" height="1"/>
<rect x="201" y="430" width="1" height="1"/>
<rect x="360" y="430" width="1" height="1"/>
<rect x="570" y="430" width="2" height="1"/>
<rect x="202" y="431" width="2" height="1"/>
<rect x="207" y="431" width="3" height="1"/>
<rect x="361" y="431" width="1" height="1"/>
<rect x="414" y="431" width="2" height="1"/>
<rect x="575" y="431" width="3" height="1"/>
<rect x="213" y="432" width="1" height="1"/>
<rect x="263" y="432" width="1" height="1"/>
<rect x="413" y="432" width="1" height="1"/>
<rect x="214" y="433" width="2" height="1"/>
<rect x="261" y="433" width="2" height="1"/>
<rect x="581" y="433" width="1" height="1"/>
<rect x="605" y="433" width="2" height="1"/>
<rect x="219" y="434" width="3" height="1"/>
<rect x="365" y="434" width="2" height="1"/>
<rect x="407" y="434" width="3" height="1"/>
<rect x="582" y="434" width="2" height="1"/>
<rect x="593" y="434" width="3" height="1"/>
<rect x="599" y="434" width="3" height="1"/>
<rect x="225" y="435" width="1" height="1"/>
<rect x="367" y="435" width="1" height="1"/>
<rect x="401" y="435" width="3" height="1"/>
<rect x="587" y="435" width="3" height="1"/>
<rect x="226" y="436" width="2" height="1"/>
<rect x="255" y="436" width="3" height="1"/>
<rect x="390" y="436" width="2" height="1"/>
<rect x="395" y="436" width="3" height="1"/>
<rect x="231" y="437" width="3" height="1"/>
<rect x="237" y="437" width="1" height="1"/>
<rect x="371" y="437" width="3" height="1"/>
<rect x="377" y="437" width="3" height="1"/>
<rect x="383" y="437" width="3" height="1"/>
<rect x="389" y="437" width="1" height="1"/>
<rect x="238" y="438" width="2" height="1"/>
<rect x="243" y="438" width="3" height="1"/>
<rect x="249" y="438" width="3" height="1"/>
</g>
<rect x="2" y="2" width="686" height="1" fill="#000"/>
<rect x="2" y="348" width="686" height="1" fill="#000"/>
<rect x="2" y="2" width="1" height="347" fill="#000"/>
<rect x="687" y="2" width="1" height="347" fill="#000"/>
<rect x="2" y="350" width="686" height="1" fill="#000"/>
<rect x="2" y="445" width="686" height="1" fill="#000"/>
<rect x="2" y="350" width="1" height="96" fill="#000"/>
<rect x="687" y="350" width="1" height="96" fill="#000"/>
<rect x="688" y="36" width="2" height="1" fill="#000"/>
<rect x="688" y="79" width="2" height="1" fill="#000"/>
<rect x="688" y="122" width="2" height="1" fill="#000"/>
<rect x="688" y="165" width="2" height="1" fill="#000"/>
<rect x="688" y="208" width="2" height="1" fill="#000"/>
<rect x="688" y="251" width="2" height="1" fill="#000"/>
<rect x="688" y="294" width="2" height="1" fill="#000"/>
<rect x="688" y="337" width="2" height="1" fill="#000"/>
<rect x="688" y="352" width="2" height="1" fill="#000"/>
<rect x="688" y="426" width="2" height="1" fill="#000"/>
<rect x="688" y="444" width="2" height="1" fill="#000"/>
<rect x="3" y="446" width="1" height="3" fill="#000"/>
<rect x="67" y="446" width="1" height="3" fill="#000"/>
<rect x="131" y="446" width="1" height="3" fill="#000"/>
<rect x="195" y="446" width="1" height="3" fill="#000"/>
<rect x="259" y="446" width="1" height="3" fill="#000"/>
<rect x="323" y="446" width="1" height="3" fill="#000"/>
<rect x="387" y="446" width="1" height="3" fill="#000"/>
<rect x="451" y="446" width="1" height="3" fill="#000"/>
<rect x="515" y="446" width="1" height="3" fill="#000"/>
<rect x="579" y="446" width="1" height="3" fill="#000"/>
<rect x="6" y="9" width="7" height="1" fill="#000"/>
<rect x="7" y="10" width="5" height="1" fill="#000"/>
<rect x="8" y="11" width="3" height="1" fill="#000"/>
<rect x="9" y="12" width="1" height="1" fill="#000"/>
<g shape-rendering="auto">
<text x="18" y="14" textLength="54" lengthAdjust="spacingAndGlyphs" fill="#000">GBPUSD,H1</text>
<text x="78" y="14" textLength="27.5" lengthAdjust="spacingAndGlyphs" fill="#000">1.6181</text>
<text x="108.8" y="14" textLength="27.5" lengthAdjust="spacingAndGlyphs" fill="#000">1.6184</text>
<text x="139.8" y="14" textLength="27.5" lengthAdjust="spacingAndGlyphs" fill="#000">1.6177</text>
<text x="171.6" y="14" textLength="27.5" lengthAdjust="spacingAndGlyphs" fill="#000">1.6179</text>
<text x="693" y="39" textLength="28" lengthAdjust="spacingAndGlyphs" fill="#000">1.6255</text>
<text x="693" y="82" textLength="28" lengthAdjust="spacingAndGlyphs" fill="#000">1.6235</text>
<text x="693" y="125" textLength="28" lengthAdjust="spacingAndGlyphs" fill="#000">1.6215</text>
<text x="693" y="168" textLength="28" lengthAdjust="spacingAndGlyphs" fill="#000">1.6195</text>
<text x="693" y="211" textLength="28" lengthAdjust="spacingAndGlyphs" fill="#000">1.6175</text>
<text x="693" y="254" textLength="28" lengthAdjust="spacingAndGlyphs" fill="#000">1.6155</text>
<text x="693" y="297" textLength="28" lengthAdjust="spacingAndGlyphs" fill="#000">1.6135</text>
<text x="693" y="340" textLength="28" lengthAdjust="spacingAndGlyphs" fill="#000">1.6115</text>
</g>
<rect x="689" y="27" width="36" height="11" fill="#FF0000"/>
<rect x="689" y="99" width="36" height="11" fill="#FF0000"/>
<rect x="689" y="171" width="36" height="11" fill="#FF0000"/>
<rect x="689" y="222" width="36" height="11" fill="#FF0000"/>
<rect x="689" y="286" width="36" height="11" fill="#FF0000"/>
<rect x="689" y="333" width="36" height="11" fill="#FF0000"/>
<g shape-rendering="auto">
<text x="693" y="36" textLength="28" lengthAdjust="spacingAndGlyphs" fill="#fff">1.6256</text>
<text x="693" y="108" textLength="28" lengthAdjust="spacingAndGlyphs" fill="#fff">1.6223</text>
<text x="693" y="180" textLength="28" lengthAdjust="spacingAndGlyphs" fill="#fff">1.6189</text>
<text x="693" y="231" textLength="28" lengthAdjust="spacingAndGlyphs" fill="#fff">1.6166</text>
<text x="693" y="295" textLength="28" lengthAdjust="spacingAndGlyphs" fill="#fff">1.6136</text>
<text x="693" y="342" textLength="28" lengthAdjust="spacingAndGlyphs" fill="#fff">1.6114</text>
</g>
<rect x="689" y="193" width="36" height="11" fill="#000"/>
<g shape-rendering="auto">
<text x="693" y="202" textLength="28" lengthAdjust="spacingAndGlyphs" fill="#fff">1.6179</text>
<text x="691" y="361" textLength="33" lengthAdjust="spacingAndGlyphs" fill="#000">0.00524</text>
<text x="691" y="429" textLength="18" lengthAdjust="spacingAndGlyphs" fill="#000">0.00</text>
<text x="691" y="442" textLength="38" lengthAdjust="spacingAndGlyphs" fill="#000">-0.00132</text>
<text x="7" y="363" textLength="66" lengthAdjust="spacingAndGlyphs" fill="#000">MACD(12,26,9)</text>
<text x="76" y="363" textLength="75.5" lengthAdjust="spacingAndGlyphs" fill="#000">-0.00030 -0.00050</text>
<text x="2.2" y="458" textLength="51" lengthAdjust="spacingAndGlyphs" fill="#000">17 Oct 2013</text>
<text x="66.2" y="458" textLength="54" lengthAdjust="spacingAndGlyphs" fill="#000">18 Oct 14:00</text>
<text x="130.2" y="458" textLength="54" lengthAdjust="spacingAndGlyphs" fill="#000">21 Oct 07:00</text>
<text x="194.2" y="458" textLength="54" lengthAdjust="spacingAndGlyphs" fill="#000">21 Oct 23:00</text>
<text x="258.2" y="458" textLength="54" lengthAdjust="spacingAndGlyphs" fill="#000">22 Oct 15:00</text>
<text x="322.2" y="458" textLength="54" lengthAdjust="spacingAndGlyphs" fill="#000">23 Oct 07:00</text>
<text x="386.2" y="458" textLength="54" lengthAdjust="spacingAndGlyphs" fill="#000">23 Oct 23:00</text>
<text x="450.2" y="458" textLength="54" lengthAdjust="spacingAndGlyphs" fill="#000">24 Oct 15:00</text>
<text x="514.2" y="458" textLength="54" lengthAdjust="spacingAndGlyphs" fill="#000">25 Oct 07:00</text>
<text x="578.2" y="458" textLength="54" lengthAdjust="spacingAndGlyphs" fill="#000">28 Oct 00:00</text>
</g>
</svg>
</body></html>
